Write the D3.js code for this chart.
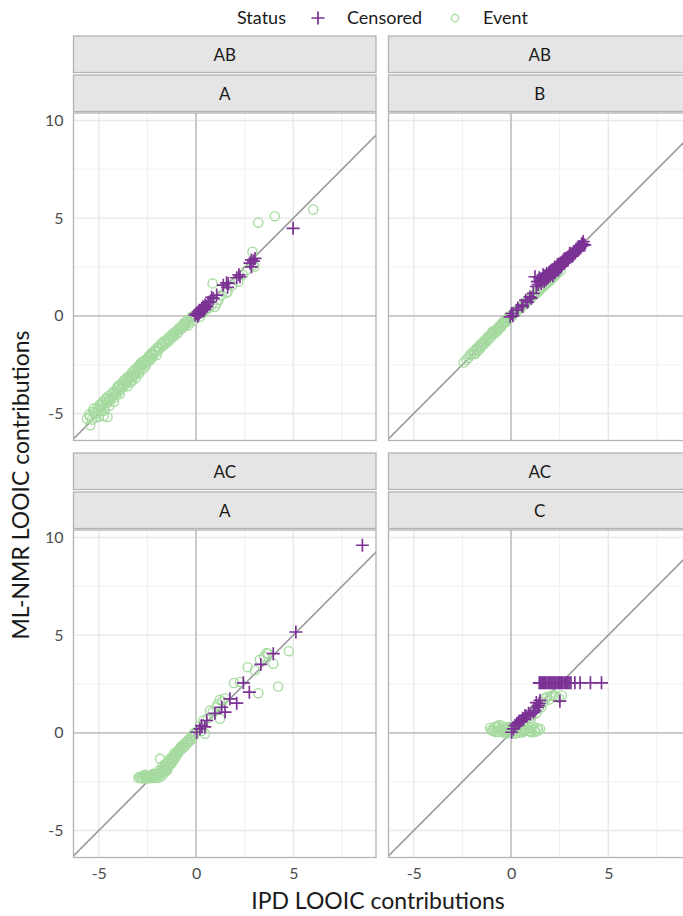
<!DOCTYPE html>
<html>
<head>
<meta charset="utf-8">
<script src="https://cdn.jsdelivr.net/npm/d3@7/dist/d3.min.js"></script>
<style>
  html, body { margin: 0; padding: 0; background: #fff; }
  svg { display: block; font-family: Lato, "Noto Sans", sans-serif; }
</style>
</head>
<body>
<svg id="chart" width="683" height="916"></svg>
<script>
// Facet labels (outer = comparison, inner = treatment arm)
const stripOuter = ["AB", "AB", "AC", "AC"];
const stripInner = ["A", "B", "A", "C"];

// Tick values
const majorTicks = [-5, 0, 5, 10];
const minorTicks = [-7.5, -2.5, 2.5, 7.5];
const tickLabels = ["-5", "0", "5", "10"];

// Legend
const statusLevels = ["Censored", "Event"];

// [IPD LOOIC, ML-NMR LOOIC] pairs per facet and status
const abA_event = [
  [-5.61,-5.26],[-5.44,-5.60],[-5.26,-4.75],[-4.75,-5.14],[-4.55,-5.18],[-5.50,-5.05],[-5.35,-5.30],[-5.20,-4.95],
  [-5.05,-4.70],[-5.10,-5.00],[-4.95,-4.55],[-4.90,-4.85],[-4.80,-4.40],[-4.70,-4.65],[-4.65,-4.30],[-4.55,-4.45],
  [-4.50,-4.10],[-4.45,-4.60],[-4.40,-4.25],[-4.30,-3.95],[-4.25,-4.20],[-4.20,-3.85],[-4.10,-4.05],[-4.05,-3.70],
  [-4.00,-3.90],[-3.95,-3.55],[-3.90,-3.75],[-3.80,-3.45],[-3.75,-3.65],[-3.70,-3.30],[-3.60,-3.50],[-3.55,-3.15],
  [-3.50,-3.35],[-3.40,-3.05],[-3.35,-3.40],[-3.30,-2.90],[-3.20,-3.05],[-3.15,-2.75],[-3.10,-3.20],[-3.00,-2.65],
  [-2.95,-2.85],[-2.90,-2.50],[-2.80,-2.55],[-2.75,-2.35],[-2.70,-2.70],[-2.60,-2.25],[-2.55,-2.40],[-2.45,-2.10],
  [-2.40,-2.30],[-2.30,-1.95],[-2.25,-2.15],[-2.15,-1.80],[-2.05,-1.85],[-2.00,-1.65],[-1.90,-1.70],[-1.80,-1.45],
  [-1.70,-1.55],[-1.65,-1.30],[-1.55,-1.35],[-1.45,-1.15],[-1.35,-1.20],[-1.25,-0.95],[-1.15,-1.00],[-1.05,-0.80],
  [-0.95,-0.85],[-0.85,-0.60],[-0.75,-0.65],[-0.65,-0.40],[-0.55,-0.45],[-0.45,-0.22],[-0.39,-0.48],[-0.30,-0.15],
  [-0.22,-0.05],[-0.15,-0.25],[-0.05,0.05],[-3.60,-3.25],[-3.25,-3.10],[-2.85,-2.70],[-4.85,-4.60],[-5.00,-5.15],
  [-5.45,-5.15],[-5.30,-4.90],[-5.15,-5.20],[-4.98,-4.80],[-4.85,-4.50],[-4.72,-4.85],[-4.60,-4.20],[-4.48,-4.35],
  [-4.35,-4.05],[-4.22,-4.40],[-4.15,-3.95],[-4.02,-3.60],[-3.92,-4.00],[-3.85,-3.65],[-3.72,-3.50],[-3.65,-3.40],
  [-3.52,-3.60],[-3.45,-3.15],[-3.38,-3.20],[-3.28,-3.30],[-3.22,-2.85],[-3.12,-3.00],[-3.05,-2.80],[-2.98,-2.60],
  [-2.92,-2.95],[-2.82,-2.40],[-2.72,-2.50],[-2.65,-2.30],[-2.58,-2.55],[-2.50,-2.20],[-2.42,-2.05],[-2.35,-2.20],
  [-2.28,-1.90],[-2.20,-2.00],[-2.10,-1.75],[-2.02,-2.00],[-1.95,-1.60],[-1.85,-1.65],[-1.75,-1.40],[-1.60,-1.45],
  [-1.50,-1.25],[-1.40,-1.30],[-1.30,-1.05],[-1.20,-1.10],[-1.10,-0.85],[-1.00,-0.95],[-0.90,-0.70],[-0.80,-0.70],
  [-0.70,-0.50],[-0.60,-0.55],[-0.50,-0.30],[-0.35,-0.35],[-0.25,-0.10],[-0.10,-0.05],
  [0.20,-0.05],[0.35,0.15],[0.50,0.30],[0.65,0.40],[0.80,0.55],[0.97,0.46],[1.06,0.64],[1.15,0.81],[0.85,1.66],
  [1.30,1.05],[1.57,1.18],[1.62,1.23],[1.85,1.55],[2.17,1.74],[2.40,2.10],[2.60,2.35],[2.94,2.60],[3.00,2.51],
  [2.90,3.28],[3.20,4.77],[4.05,5.10],[6.02,5.44]
];
const abA_censored = [
  [4.99,4.48],[2.85,2.86],[3.03,2.94],[2.77,2.70],[2.85,2.51],[2.95,2.80],[2.26,2.00],[2.09,1.95],[2.20,2.10],
  [1.57,1.69],[1.40,1.57],[1.62,1.46],[1.66,1.66],[1.06,1.06],[0.89,0.89],[0.80,0.95],[0.72,0.72],[0.63,0.70],
  [0.55,0.50],[0.46,0.55],[0.37,0.38],[0.40,0.30],[0.29,0.38],[0.25,0.20],[0.20,0.20],[0.15,0.10],[0.12,0.20],
  [0.08,0.05],[0.03,0.12],[-0.05,0.04],[0.10,-0.02],[0.30,0.25],[0.45,0.35],[0.35,0.45],[0.18,0.28],[0.50,0.45]
];
const abB_event = [
  [-2.44,-2.39],[-2.19,-2.15],[-2.05,-1.95],[-1.95,-1.85],[-1.85,-1.95],[-1.75,-1.70],[-1.65,-1.55],[-1.59,-1.67],
  [-1.50,-1.40],[-1.45,-1.50],[-1.35,-1.25],[-1.30,-1.35],[-1.20,-1.10],[-1.10,-1.15],[-1.08,-0.99],[-1.00,-0.90],
  [-0.90,-0.95],[-0.85,-0.75],[-0.75,-0.70],[-0.70,-0.78],[-0.60,-0.52],[-0.55,-0.60],[-0.45,-0.38],[-0.39,-0.30],
  [-0.30,-0.35],[-0.22,-0.15],[-0.15,-0.20],[-0.05,0.00],[0.05,-0.02],[0.15,0.12],[0.29,0.30],[0.40,0.35],
  [0.55,0.45],[0.70,0.62],[0.85,0.75],[1.00,0.88],[1.14,1.05],[1.30,1.15],[1.45,1.30],[1.60,1.45],[1.80,1.62],
  [1.99,1.80],[2.20,2.00],[2.40,2.20],[2.55,2.30],[-1.70,-1.80],[-1.25,-1.20],[-0.95,-0.80],[-0.50,-0.45],
  [-2.30,-2.25],[-2.10,-2.00],[-1.90,-1.95],[-1.80,-1.70],[-1.60,-1.60],[-1.55,-1.45],[-1.40,-1.45],[-1.25,-1.30],
  [-1.15,-1.05],[-1.05,-1.10],[-0.95,-0.88],[-0.80,-0.85],[-0.65,-0.60],[-0.50,-0.55],[-0.35,-0.28],[-0.25,-0.28],
  [-0.10,-0.05],[0.10,0.08],[0.22,0.18],[0.35,0.28],[0.48,0.42],[0.62,0.55],[0.78,0.70],[0.92,0.82],[1.08,0.98],
  [1.22,1.10],[1.38,1.22],[1.52,1.38],[1.70,1.52],[1.90,1.70],[2.10,1.90],[2.30,2.10]
];
const abB_censored = [
  [-0.05,-0.05],[0.03,0.12],[0.10,0.00],[0.29,0.29],[0.35,0.40],[0.55,0.55],[0.60,0.48],[0.97,0.97],[1.05,0.90],
  [1.14,1.15],[1.23,2.00],[1.30,1.50],[1.40,1.60],[1.49,1.83],[1.55,1.65],[1.60,1.90],[1.70,1.75],[1.75,2.05],
  [1.83,2.17],[1.90,1.95],[1.95,2.20],[2.00,2.05],[2.05,2.30],[2.10,2.15],[2.17,2.26],[2.20,2.40],[2.25,2.20],
  [2.30,2.45],[2.35,2.35],[2.40,2.55],[2.45,2.40],[2.51,2.60],[2.55,2.70],[2.60,2.55],[2.65,2.80],[2.70,2.70],
  [2.75,2.90],[2.80,2.78],[2.85,2.86],[2.90,3.00],[2.95,2.92],[3.00,3.10],[3.05,3.00],[3.10,3.18],[3.19,3.11],
  [3.25,3.30],[3.30,3.22],[3.40,3.35],[3.45,3.45],[3.54,3.46],[3.60,3.55],[3.71,3.80],[3.79,3.63],[3.65,3.70],
  [1.85,2.00],[2.15,2.05],[2.45,2.65],[2.25,2.50],
  [1.35,1.75],[1.45,1.95],[1.65,2.10],[1.80,1.85],[2.00,2.25],[2.12,2.35],[2.30,2.30],[2.38,2.62],[2.50,2.48],
  [2.62,2.70],[2.72,2.82],[2.82,2.95],[2.92,2.85],[3.02,3.20],[3.15,3.05],[3.22,3.25],[3.35,3.40],[3.50,3.55],
  [3.62,3.65],[3.70,3.60],[0.75,0.80],[0.85,0.70]
];
const acA_event = [
  [-2.96,-2.31],[-2.85,-2.28],[-2.75,-2.33],[-2.65,-2.26],[-2.55,-2.31],[-2.45,-2.25],[-2.40,-2.33],[-2.30,-2.28],
  [-2.20,-2.31],[-2.10,-2.24],[-2.00,-2.30],[-1.95,-2.15],[-1.90,-2.28],[-1.85,-2.05],[-2.25,-2.15],[-2.55,-2.18],
  [-1.80,-1.95],[-1.75,-2.20],[-1.70,-1.85],[-1.65,-2.05],[-1.60,-1.75],[-1.55,-1.95],[-1.50,-1.60],[-1.45,-1.80],
  [-1.40,-1.50],[-1.35,-1.65],[-1.30,-1.40],[-1.25,-1.55],[-1.20,-1.25],[-1.15,-1.40],[-1.10,-1.15],[-1.05,-1.25],
  [-1.00,-1.00],[-0.95,-1.10],[-0.90,-0.88],[-0.85,-0.95],[-0.80,-0.75],[-0.70,-0.80],[-0.65,-0.62],[-0.55,-0.65],
  [-0.50,-0.48],[-0.40,-0.50],[-0.35,-0.32],[-0.25,-0.35],[-0.20,-0.15],[-0.10,-0.15],[-0.05,0.02],[-1.85,-1.33],
  [-1.50,-1.93],
  [-2.90,-2.25],[-2.80,-2.31],[-2.70,-2.22],[-2.60,-2.33],[-2.50,-2.27],[-2.35,-2.20],[-2.15,-2.27],[-2.05,-2.10],
  [-1.98,-2.22],[-1.88,-1.90],[-1.78,-2.05],[-1.72,-1.70],[-1.62,-1.90],[-1.58,-1.60],[-1.48,-1.72],[-1.42,-1.40],
  [-1.32,-1.55],[-1.28,-1.28],[-1.18,-1.35],[-1.12,-1.05],[-1.02,-1.15],[-0.92,-0.95],[-0.82,-0.85],[-0.75,-0.68],
  [-0.62,-0.72],[-0.58,-0.55],[-0.45,-0.42],[-0.30,-0.38],[-0.15,-0.08],[-2.20,-2.10],[-2.65,-2.15],
  [0.37,0.63],[0.46,-0.05],[0.72,1.14],[1.06,1.31],[1.23,0.72],[1.23,1.69],[1.49,1.77],[2.26,2.60],[2.65,3.36],
  [3.03,3.19],[3.28,3.74],[3.71,4.05],[3.62,4.08],[3.97,3.54],[4.77,4.18],[4.22,2.37],[3.20,2.03],[0.20,0.35],
  [0.60,0.75],[0.85,1.05],[1.10,1.45],[1.35,1.60],[0.30,0.10],[1.95,2.55],[3.50,3.90]
];
const acA_censored = [
  [8.55,9.60],[5.13,5.16],[3.97,4.05],[3.33,3.50],[2.43,2.56],[2.74,2.08],[1.74,1.74],[1.32,1.31],[2.09,1.52],
  [1.49,1.06],[0.97,1.00],[0.55,0.63],[0.29,0.37],[0.03,0.03],[0.20,0.20],[0.45,0.30]
];
const acC_event = [
  [-1.08,0.25],[-0.95,0.10],[-0.91,0.12],[-0.85,0.30],[-0.73,0.29],[-0.65,0.05],[-0.55,0.20],[-0.45,0.35],
  [-0.39,0.03],[-0.30,0.15],[-0.20,0.05],[-0.15,0.30],[-0.05,0.10],[0.05,0.20],[0.15,0.05],[0.25,0.15],
  [0.35,0.00],[0.45,0.10],[0.55,0.25],[0.65,0.05],[0.75,0.15],[0.85,0.35],[0.95,0.10],[1.06,0.03],[1.20,0.15],
  [1.40,0.12],[1.49,0.20],[0.80,0.80],[1.14,1.14],[1.00,0.60],[0.70,0.55],[1.30,1.00],[1.66,1.57],[1.83,1.83],
  [2.05,1.90],[2.30,1.85],[2.60,1.91],[1.55,1.30],[-0.60,0.40],[0.30,0.40],
  [-1.00,0.15],[-0.80,0.05],[-0.70,0.35],[-0.50,0.10],[-0.35,0.25],[-0.25,-0.05],[-0.10,0.25],[0.00,0.05],
  [0.10,0.30],[0.20,-0.05],[0.40,0.25],[0.50,0.02],[0.60,0.40],[0.70,0.10],[0.90,0.25],[1.00,0.05],[1.10,0.30],
  [1.25,0.05],[1.35,0.25],[0.95,0.75],[1.10,0.90],[1.25,1.20],[1.45,1.35],[1.75,1.75],[1.95,1.70],[2.20,1.92],
  [2.45,1.80]
];
const acC_censored = [
  [1.45,2.56],[1.62,2.56],[1.79,2.56],[1.93,2.56],[2.05,2.56],[2.22,2.56],[2.36,2.56],[2.48,2.56],[2.60,2.56],
  [2.74,2.56],[2.87,2.56],[2.99,2.56],[3.28,2.56],[3.55,2.56],[4.08,2.56],[4.65,2.56],
  [1.50,2.56],[1.55,2.56],[1.68,2.56],[1.72,2.56],[1.85,2.56],[1.98,2.56],[2.10,2.56],[2.15,2.56],[2.28,2.56],
  [2.42,2.56],[2.54,2.56],[2.66,2.56],[2.80,2.56],[2.92,2.56],[3.08,2.56],
  [2.51,1.62],[1.49,1.66],[1.40,1.40],[1.23,1.14],[1.30,1.55],[0.72,0.89],[0.90,1.00],[0.55,0.63],[0.38,0.54],
  [0.29,0.46],[0.20,0.37],[0.12,0.20],[0.03,0.03],[0.60,0.75],[0.45,0.55],
  [1.45,1.50],[1.35,1.30],[1.15,1.05],[1.00,0.95],[0.80,0.85],[0.65,0.70]
];

const facetEvent = [abA_event, abB_event, acA_event, acC_event];
const facetCensored = [abA_censored, abB_censored, acA_censored, acC_censored];

// Layout
const colLeft = [73.5, 388.5];
const rowTop = [113, 530];
const panelW = 302.5, panelH = 327.5;
const stripH = 37;
const colours = { Censored: "#7b3294", Event: "#a6dba0" };
const ink = "#1a1a1a", tickInk = "#4d4d4d";

const x = d3.scaleLinear().domain([-6.3, 9.25]).range([0, panelW]);
const y = d3.scaleLinear().domain([-6.38, 10.38]).range([panelH, 0]);

const svg = d3.select("#chart");
const defs = svg.append("defs");
defs.append("clipPath").attr("id", "panel-clip")
  .append("rect").attr("width", panelW).attr("height", panelH);

const crossPath = "M-6.5,0H6.5M0,-6.5V6.5";

stripOuter.forEach((outer, i) => {
  const col = i % 2, row = Math.floor(i / 2);
  const g = svg.append("g").attr("transform", `translate(${colLeft[col]},${rowTop[row]})`);

  // strips
  [[outer, -2 * stripH - 3], [stripInner[i], -stripH - 1]].forEach(([lab, dy]) => {
    g.append("rect").attr("x", 0).attr("y", dy).attr("width", panelW).attr("height", stripH - 0.5)
      .attr("fill", "#e5e5e5").attr("stroke", "#b3b3b3").attr("stroke-width", 1.3);
    g.append("text").attr("x", panelW / 2).attr("y", dy + stripH / 2)
      .attr("text-anchor", "middle").attr("dominant-baseline", "central")
      .attr("font-size", 17).attr("fill", ink).text(lab);
  });

  const plot = g.append("g").attr("clip-path", "url(#panel-clip)");
  plot.append("rect").attr("width", panelW).attr("height", panelH).attr("fill", "#fff");

  // grid
  plot.selectAll(".minx").data(minorTicks).join("line")
    .attr("x1", d => x(d)).attr("x2", d => x(d)).attr("y1", 0).attr("y2", panelH)
    .attr("stroke", "#f0f0f0").attr("stroke-width", 1.1);
  plot.selectAll(".miny").data(minorTicks).join("line")
    .attr("y1", d => y(d)).attr("y2", d => y(d)).attr("x1", 0).attr("x2", panelW)
    .attr("stroke", "#f0f0f0").attr("stroke-width", 1.1);
  plot.selectAll(".majx").data(majorTicks).join("line")
    .attr("x1", d => x(d)).attr("x2", d => x(d)).attr("y1", 0).attr("y2", panelH)
    .attr("stroke", "#e8e8e8").attr("stroke-width", 1.4);
  plot.selectAll(".majy").data(majorTicks).join("line")
    .attr("y1", d => y(d)).attr("y2", d => y(d)).attr("x1", 0).attr("x2", panelW)
    .attr("stroke", "#e8e8e8").attr("stroke-width", 1.4);

  // reference lines at zero
  plot.append("line").attr("x1", x(0)).attr("x2", x(0)).attr("y1", 0).attr("y2", panelH)
    .attr("stroke", "#c6c6c6").attr("stroke-width", 1.8);
  plot.append("line").attr("y1", y(0)).attr("y2", y(0)).attr("x1", 0).attr("x2", panelW)
    .attr("stroke", "#c6c6c6").attr("stroke-width", 1.8);

  // identity line
  plot.append("line").attr("x1", x(-7)).attr("y1", y(-7)).attr("x2", x(11)).attr("y2", y(11))
    .attr("stroke", "#999").attr("stroke-width", 1.6);

  // points
  plot.selectAll(".ev").data(facetEvent[i]).join("circle")
    .attr("cx", d => x(d[0])).attr("cy", d => y(d[1])).attr("r", 4.6)
    .attr("fill", "none").attr("stroke", colours.Event).attr("stroke-width", 1.35);
  plot.selectAll(".ce").data(facetCensored[i]).join("path")
    .attr("transform", d => `translate(${x(d[0])},${y(d[1])})`)
    .attr("d", crossPath).attr("fill", "none")
    .attr("stroke", colours.Censored).attr("stroke-width", 1.7);

  // border
  g.append("rect").attr("width", panelW).attr("height", panelH)
    .attr("fill", "none").attr("stroke", "#b3b3b3").attr("stroke-width", 1.3);

  // axes
  if (col === 0) {
    const ay = g.append("g").attr("transform", "translate(-4,0)")
      .call(d3.axisLeft(y).tickValues(majorTicks).tickFormat((d, k) => tickLabels[k]).tickSize(0).tickPadding(6));
    ay.select(".domain").remove();
    ay.selectAll("text").attr("font-size", 16).attr("fill", tickInk).attr("font-family", "Lato, sans-serif");
  }
  if (row === 1) {
    const ax = g.append("g").attr("transform", `translate(0,${panelH + 4})`)
      .call(d3.axisBottom(x).tickValues(majorTicks.filter(v => v < 9.25)).tickFormat((d, k) => tickLabels[k]).tickSize(0).tickPadding(6));
    ax.select(".domain").remove();
    ax.selectAll("text").attr("font-size", 16).attr("fill", tickInk).attr("font-family", "Lato, sans-serif");
  }
});

// axis titles
svg.append("text").attr("x", 378).attr("y", 909).attr("text-anchor", "middle")
  .attr("font-size", 23).attr("fill", ink).text("IPD LOOIC contributions");
svg.append("text").attr("transform", "translate(29,485) rotate(-90)").attr("text-anchor", "middle")
  .attr("font-size", 23).attr("fill", ink).text("ML-NMR LOOIC contributions");

// legend
const leg = svg.append("g");
leg.append("text").attr("x", 237).attr("y", 24).attr("font-size", 18).attr("fill", ink).text("Status");
leg.append("path").attr("transform", "translate(318,18)").attr("d", crossPath)
  .attr("stroke", colours.Censored).attr("stroke-width", 1.7).attr("fill", "none");
leg.append("text").attr("x", 347).attr("y", 24).attr("font-size", 18).attr("fill", ink).text(statusLevels[0]);
leg.append("circle").attr("cx", 455).attr("cy", 18).attr("r", 3.6)
  .attr("fill", "none").attr("stroke", colours.Event).attr("stroke-width", 1.3);
leg.append("text").attr("x", 483).attr("y", 24).attr("font-size", 18).attr("fill", ink).text(statusLevels[1]);
</script>
</body>
</html>
